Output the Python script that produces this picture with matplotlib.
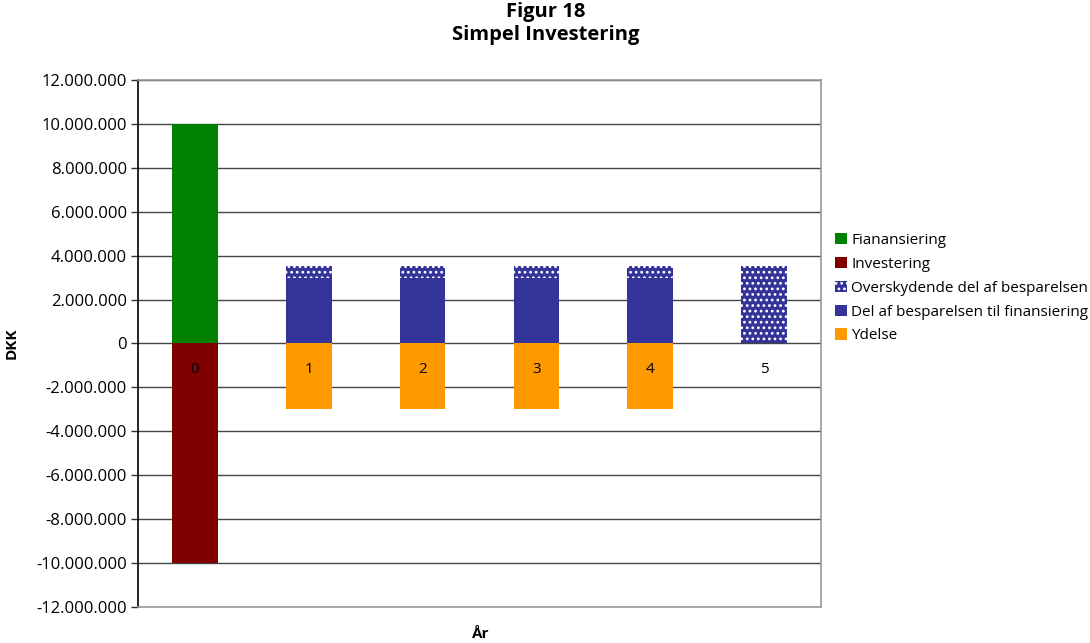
import matplotlib.pyplot as plt
import matplotlib as mpl
import numpy as np

# data (DKK)
years = ["0", "1", "2", "3", "4", "5"]
finansiering = [10000000, 0, 0, 0, 0, 0]
investering = [-10000000, 0, 0, 0, 0, 0]
del_finansiering = [0, 3000000, 3000000, 3000000, 3000000, 0]
overskydende = [0, 550000, 550000, 550000, 550000, 3550000]
ydelse = [0, -3000000, -3000000, -3000000, -3000000, 0]

yticks = np.arange(-12000000, 12000001, 2000000)


def fmt(v):
    s = "{:,.0f}".format(abs(v)).replace(",", ".")
    return "-" + s if v < 0 else s


def main():
    plt.rcParams["font.family"] = ["Open Sans", "DejaVu Sans"]
    mpl.rcParams["hatch.linewidth"] = 1.2

    fig = plt.figure(figsize=(10.9, 6.43), dpi=100)
    ax = fig.add_axes([0.1266, 0.056, 0.6266, 0.8196])

    x = np.arange(len(years))
    w = 0.4

    ax.bar(x, finansiering, w, color="#008000", label="Fianansiering", zorder=3)
    ax.bar(x, investering, w, color="#800000", label="Investering", zorder=3)
    ax.bar(x, overskydende, w, bottom=del_finansiering, color="#333399",
           edgecolor="white", linewidth=0, hatch="...",
           label="Overskydende del af besparelsen", zorder=3)
    ax.bar(x, del_finansiering, w, color="#333399",
           label="Del af besparelsen til finansiering", zorder=3)
    ax.bar(x, ydelse, w, color="#FF9900", label="Ydelse", zorder=3)

    # category labels sit next to the zero line
    for xi, lab in zip(x, years):
        ax.text(xi, -1200000, lab, ha="center", va="center", fontsize=11, zorder=4)

    ax.set_xlim(-0.5, len(years) - 0.5)
    ax.set_ylim(-12000000, 12000000)
    ax.set_yticks(yticks)
    ax.set_yticklabels([fmt(v) for v in yticks], fontsize=12)
    ax.set_xticks([])
    ax.tick_params(axis="y", direction="out", length=5, width=1, color="#333333", pad=3)

    ax.grid(axis="y", color="#444444", linewidth=1, zorder=0)
    for s in ["top", "right", "bottom"]:
        ax.spines[s].set_color("#999999")
        ax.spines[s].set_linewidth(1.2)
    ax.spines["left"].set_color("black")
    ax.spines["left"].set_linewidth(1.2)

    ax.set_ylabel("DKK", fontsize=11, fontweight="bold")
    ax.yaxis.set_label_coords(-0.175, 0.5)
    fig.text(0.44, 0.014, "År", ha="center", va="center", fontsize=11, fontweight="bold")

    fig.suptitle("Figur 18\nSimpel Investering", x=0.501, y=0.997, fontsize=14.5,
                 fontweight="bold", linespacing=1.2)

    ax.legend(loc="center left", bbox_to_anchor=(1.005, 0.605), frameon=False,
              fontsize=11, handlelength=0.75, handleheight=0.75, handletextpad=0.3,
              labelspacing=0.58, borderaxespad=0.3)

    plt.savefig("out.png", dpi=100)


if __name__ == "__main__":
    main()
